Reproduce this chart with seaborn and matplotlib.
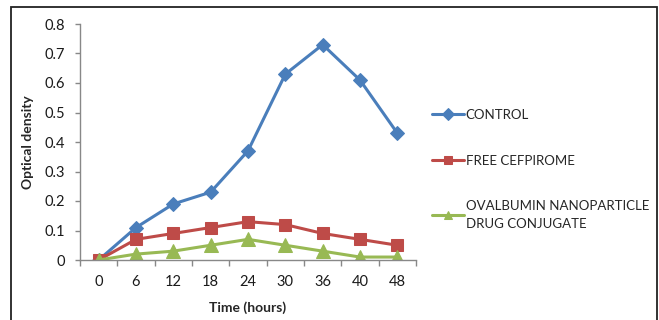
import numpy as np
import pandas as pd
import matplotlib
matplotlib.use("Agg")
import matplotlib.pyplot as plt
import seaborn as sns
from matplotlib.patches import Rectangle

times = ["0", "6", "12", "18", "24", "30", "36", "40", "48"]
control = [0.00, 0.11, 0.19, 0.23, 0.37, 0.63, 0.73, 0.61, 0.43]
free_cefpirome = [0.00, 0.07, 0.09, 0.11, 0.13, 0.12, 0.09, 0.07, 0.05]
ovalbumin = [0.00, 0.02, 0.03, 0.05, 0.07, 0.05, 0.03, 0.01, 0.01]
series_names = ["CONTROL", "FREE CEFPIROME", "OVALBUMIN NANOPARTICLE\nDRUG CONJUGATE"]

sns.set_theme(style="white")
plt.rcParams["font.family"] = ["Lato", "DejaVu Sans"]

rows = []
for name, vals in zip(series_names, [control, free_cefpirome, ovalbumin]):
    for i, (t, v) in enumerate(zip(times, vals)):
        rows.append({"idx": i, "time": t, "od": v, "series": name})
df = pd.DataFrame(rows)

colors = ["#4A7EBB", "#BE4B48", "#98B954"]
markers = ["D", "s", "^"]
msizes = [7.5, 9, 10]

fig = plt.figure(figsize=(6.59, 3.2), dpi=100)
ax = fig.add_axes([80 / 659, 60 / 320, 336 / 659, 236 / 320])

for name, c, m, ms in zip(series_names, colors, markers, msizes):
    sub = df[df["series"] == name]
    sns.lineplot(data=sub, x="idx", y="od", ax=ax, color=c, marker=m,
                 markersize=ms, markeredgecolor=c, linewidth=2.2, label=name,
                 legend=False)

ax.set_xlim(-0.5, len(times) - 0.5)
ax.set_ylim(0, 0.8)
ax.set_yticks(np.arange(0, 0.81, 0.1))
ax.set_yticklabels(["0"] + [f"{v:.1f}" for v in np.arange(0.1, 0.81, 0.1)])
ax.set_xticks(range(len(times)))
ax.set_xticklabels(times)
ax.set_xticks(np.arange(-0.5, len(times), 1.0), minor=True)
ax.tick_params(axis="x", which="major", length=0, labelsize=10.5, pad=11, colors="#1a1a1a")
ax.tick_params(axis="x", which="minor", length=4, width=1, color="#888888", direction="out", bottom=True)
ax.tick_params(axis="y", which="major", length=3.5, width=1, color="#888888", direction="out", left=True,
               labelsize=10.5, pad=7, labelcolor="#1a1a1a")
for s in ["top", "right"]:
    ax.spines[s].set_visible(False)
for s in ["left", "bottom"]:
    ax.spines[s].set_color("#888888")
    ax.spines[s].set_linewidth(1)
ax.set_xlabel("Time (hours)", fontsize=10, fontweight="bold", labelpad=9)
ax.set_ylabel("Optical density", fontsize=10, fontweight="bold", labelpad=8)

handles, labels = ax.get_legend_handles_labels()
leg = fig.legend(handles, labels, loc="upper left", bbox_to_anchor=(432 / 659, 1 - 109 / 320),
                 frameon=False, fontsize=9.5, labelspacing=2.55, handlelength=2.4,
                 handletextpad=0.15, borderpad=0, borderaxespad=0)
for h in leg.legend_handles:
    h.set_markersize(6)
for t in leg.get_texts():
    t.set_linespacing(1.55)

fig.patches.append(Rectangle((11 / 659, -0.05), (657 - 11) / 659, (313 + 16) / 320,
                             transform=fig.transFigure, fill=False, edgecolor="#222222",
                             linewidth=1.3))

fig.savefig("out.png", dpi=100)
